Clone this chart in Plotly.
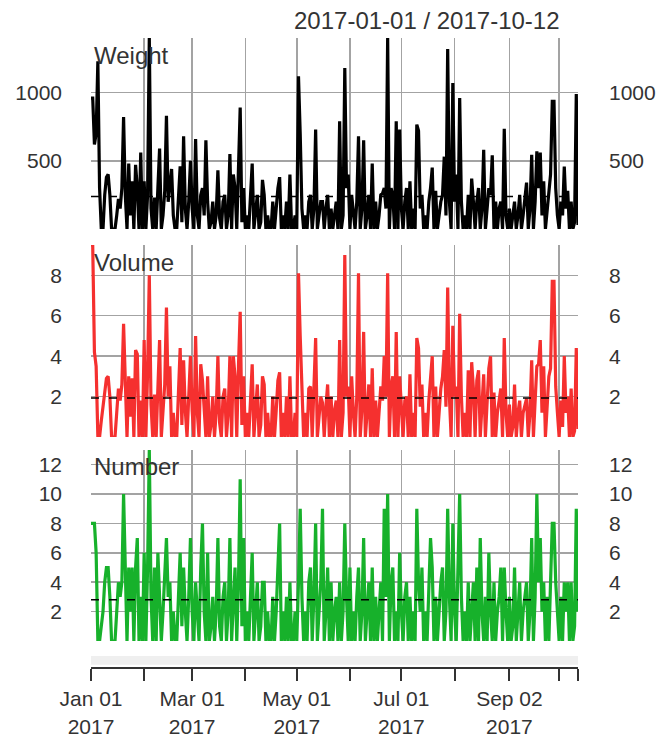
import pandas as pd
import plotly.graph_objects as go

dates = pd.date_range("2017-01-01", "2017-10-12", freq="D")

weight = [
    960, 960, 620, 700, 1230, 300, 0, 0, 250, 380,
    400, 250, 0, 0, 0, 100, 220, 150, 300, 820,
    250, 0, 480, 100, 350, 0, 470, 300, 0, 560,
    0, 350, 0, 250, 1400, 150, 0, 230, 0, 300,
    590, 0, 100, 280, 830, 200, 300, 440, 100, 0,
    0, 200, 460, 50, 680, 150, 0, 200, 500, 150,
    0, 660, 100, 0, 250, 300, 100, 650, 200, 0,
    50, 200, 0, 100, 430, 80, 0, 200, 250, 0,
    100, 550, 0, 400, 300, 0, 560, 890, 50, 300,
    0, 100, 0, 200, 480, 0, 120, 250, 0, 50,
    360, 250, 0, 100, 0, 0, 200, 0, 150, 300,
    380, 0, 100, 0, 200, 0, 400, 0, 0, 100,
    0, 1120, 700, 150, 0, 100, 0, 200, 250, 0,
    150, 730, 0, 100, 200, 200, 0, 150, 250, 0,
    150, 0, 100, 200, 0, 790, 0, 100, 1180, 300,
    400, 0, 250, 100, 0, 200, 680, 0, 150, 650,
    0, 100, 250, 0, 480, 0, 200, 0, 100, 250,
    260, 300, 150, 1400, 0, 300, 250, 0, 790, 0,
    730, 150, 0, 200, 300, 0, 350, 0, 150, 0,
    765, 720, 150, 250, 0, 100, 0, 200, 300, 450,
    0, 280, 0, 100, 200, 250, 530, 100, 1320, 200,
    0, 1070, 200, 400, 0, 960, 200, 0, 100, 0,
    250, 0, 370, 200, 0, 200, 300, 0, 150, 580,
    0, 150, 300, 250, 540, 0, 200, 0, 150, 200,
    0, 735, 100, 0, 150, 0, 100, 200, 0, 100,
    250, 0, 100, 200, 340, 0, 150, 544, 0, 200,
    570, 300, 560, 100, 350, 0, 150, 300, 400, 936,
    936, 300, 100, 0, 200, 100, 458, 150, 280, 0,
    200, 0, 50, 990, 30,
]

volume = [
    9.5, 9.5, 4.2, 3.5, 0, 0, 0.8, 1.5, 2.5, 2.9,
    3.0, 2.0, 0, 0, 0, 1.2, 2.4, 1.8, 2.6, 5.6,
    2.2, 0, 3.0, 1.0, 2.9, 0, 4.3, 4.1, 0, 1.8,
    0, 4.8, 0, 3.2, 8.0, 1.6, 0, 2.1, 0, 2.3,
    4.8, 0, 1.2, 2.6, 6.4, 2.0, 3.5, 0, 1.2, 0,
    0, 2.0, 4.4, 0.6, 3.8, 1.3, 0, 2.0, 4.0, 1.3,
    0, 5.0, 1.2, 0, 3.6, 2.8, 1.0, 0, 3.0, 0,
    0.6, 2.0, 0, 1.2, 4.0, 0.7, 0, 2.0, 2.4, 0,
    1.2, 4.0, 0, 4.0, 3.0, 0, 3.5, 6.2, 0.6, 3.0,
    0, 1.2, 0, 2.0, 3.6, 0, 1.2, 2.6, 0, 0.6,
    3.0, 2.6, 0, 1.2, 0, 0, 2.0, 0, 1.3, 2.8,
    3.2, 0, 1.2, 0, 2.0, 0, 3.0, 0, 0, 1.2,
    0, 8.1, 5.0, 1.8, 0, 1.2, 0, 2.4, 2.5, 0,
    2.0, 4.9, 0, 1.2, 2.0, 1.7, 0, 1.5, 2.6, 0,
    2.0, 0, 1.3, 1.8, 0, 4.8, 0, 1.2, 9.0, 2.0,
    2.5, 0, 3.0, 1.2, 0, 2.0, 8.1, 0, 1.4, 5.2,
    0, 1.2, 2.6, 0, 3.4, 0, 1.8, 0, 1.2, 2.5,
    1.8, 4.0, 2.0, 8.1, 0, 2.5, 3.0, 0, 5.2, 0,
    3.0, 1.3, 0, 1.8, 2.0, 0, 3.1, 0, 1.2, 0,
    4.9, 4.4, 1.5, 2.6, 0, 1.2, 0, 1.8, 3.0, 4.0,
    0, 2.5, 0, 1.2, 2.4, 3.0, 4.3, 1.5, 7.4, 2.0,
    0, 5.5, 2.0, 2.5, 0, 6.1, 2.0, 0, 1.2, 0,
    3.3, 0, 3.7, 2.4, 0, 2.8, 3.3, 0, 1.4, 3.1,
    0, 1.8, 3.4, 4.0, 0, 2.2, 0, 1.2, 1.8, 2.4,
    0, 4.9, 1.2, 0, 1.6, 0, 0.5, 2.6, 0, 1.2,
    1.8, 0, 1.2, 1.6, 1.9, 0, 1.2, 3.8, 0, 1.8,
    3.5, 3.6, 4.8, 1.2, 3.5, 0, 1.8, 3.0, 3.4, 7.7,
    7.7, 2.5, 1.2, 0, 1.8, 0.5, 4.0, 1.2, 2.0, 0,
    2.4, 0, 0.3, 4.4, 0.4,
]

number = [
    8, 8, 8, 6, 0, 0, 1, 2, 4, 5,
    5, 3, 0, 0, 0, 2, 4, 3, 4, 10,
    4, 0, 5, 2, 5, 0, 5, 7, 0, 3,
    0, 6, 0, 5, 13, 3, 0, 5, 0, 6,
    3, 0, 2, 5, 7, 3, 4, 0, 2, 0,
    0, 3, 6, 1, 5, 2, 0, 3, 7, 2,
    0, 4, 2, 0, 5, 8, 2, 0, 6, 0,
    1, 3, 0, 2, 7, 1, 0, 3, 4, 0,
    2, 7, 0, 3, 5, 0, 4, 11, 1, 7,
    0, 2, 0, 3, 6, 0, 2, 4, 0, 1,
    4, 4, 0, 2, 0, 0, 3, 0, 2, 5,
    8, 0, 2, 0, 3, 0, 4, 0, 0, 2,
    0, 4, 9, 3, 0, 2, 0, 4, 5, 0,
    3, 8, 0, 2, 4, 9, 0, 2, 5, 0,
    4, 0, 2, 3, 0, 4, 0, 2, 8, 3,
    0, 5, 0, 2, 0, 3, 5, 0, 2, 7,
    0, 2, 4, 0, 5, 0, 3, 0, 2, 4,
    0, 9, 3, 10, 0, 4, 5, 0, 2, 0,
    6, 2, 0, 3, 4, 0, 3, 0, 2, 0,
    9, 4, 2, 5, 0, 2, 0, 3, 7, 5,
    0, 3, 0, 2, 4, 5, 0, 2, 9, 3,
    0, 8, 2, 0, 5, 10, 3, 0, 2, 0,
    4, 0, 2, 4, 0, 5, 0, 7, 2, 0,
    3, 0, 6, 2, 0, 4, 0, 2, 3, 5,
    0, 5, 2, 0, 3, 0, 1, 5, 0, 2,
    4, 0, 2, 3, 4, 0, 2, 7, 0, 3,
    10, 4, 7, 2, 4, 0, 3, 0, 5, 8,
    8, 4, 2, 0, 3, 0, 4, 2, 4, 0,
    4, 0, 1, 9, 2,
]

panel_names = ["Weight", "Volume", "Number"]
panel_colors = ["#000000", "#F5302F", "#17B12B"]
y_ticks = [[500, 1000], [2, 4, 6, 8], [2, 4, 6, 8, 10, 12]]
grid_dates = ["2017-01-01", "2017-02-01", "2017-03-01", "2017-04-01", "2017-05-01",
              "2017-06-01", "2017-07-01", "2017-08-01", "2017-09-02", "2017-10-01",
              "2017-10-12"]
x_labels = ["Jan 01<br>2017", "", "Mar 01<br>2017", "", "May 01<br>2017", "",
            "Jul 01<br>2017", "", "Sep 02<br>2017", "", ""]
title_text = "2017-01-01 / 2017-10-12"

series = [weight, volume, number]

W, H = 658, 738


def fx(px):
    return px / W


def fy(py):
    return 1 - py / H


x_dom = [fx(91), fx(578)]
y_doms = [[fy(229), fy(38)], [fy(437), fy(245)], [fy(641), fy(450)]]
strip_dom = [fy(667), fy(656)]

FONT = "Liberation Sans, Arial, Helvetica, sans-serif"
TXT = "#333333"
GRID = "#A3A3A3"
x_range = [dates[0], dates[-1]]

fig = go.Figure()
layout = dict(
    width=W, height=H, autosize=False,
    margin=dict(l=0, r=0, t=0, b=0),
    paper_bgcolor="white", plot_bgcolor="white",
    showlegend=False,
    font=dict(family=FONT, color=TXT, size=21),
)

for i, (vals, name, col, ticks) in enumerate(zip(series, panel_names, panel_colors, y_ticks)):
    xa = "x" if i == 0 else f"x{i+1}"
    ya = "y" if i == 0 else f"y{i+1}"
    yr_name = f"y{i+4}"
    mean_v = sum(vals) / len(vals)
    yrange = [min(vals), max(vals)]
    fig.add_trace(go.Scatter(x=dates, y=vals, mode="lines", xaxis=xa, yaxis=ya,
                             line=dict(color=col, width=3.2), hoverinfo="skip"))
    fig.add_trace(go.Scatter(x=[dates[0], dates[-1]], y=[mean_v, mean_v], mode="lines",
                             xaxis=xa, yaxis=ya,
                             line=dict(color="black", width=1.5, dash="8px,10px"),
                             hoverinfo="skip"))
    fig.add_trace(go.Scatter(x=dates, y=vals, mode="lines", xaxis=xa, yaxis=yr_name,
                             line=dict(color="rgba(0,0,0,0)", width=0), hoverinfo="skip"))
    xkey = "xaxis" if i == 0 else f"xaxis{i+1}"
    ykey = "yaxis" if i == 0 else f"yaxis{i+1}"
    layout[xkey] = dict(domain=x_dom, anchor=ya, range=x_range, type="date",
                        tickvals=grid_dates, showticklabels=False, ticks="",
                        showgrid=True, gridcolor=GRID, gridwidth=1.5,
                        zeroline=False, showline=False,
                        **({} if i == 0 else {"matches": "x"}))
    layout[ykey] = dict(domain=y_doms[i], anchor=xa, range=yrange,
                        tickvals=ticks, showgrid=True, gridcolor=GRID, gridwidth=1.5,
                        zeroline=False, showline=False, ticks="",
                        ticklabelstandoff=28, automargin=False,
                        tickfont=dict(size=21, color=TXT))
    layout[f"yaxis{i+4}"] = dict(domain=y_doms[i], anchor=xa, overlaying=ya, side="right",
                                 range=yrange, tickvals=ticks, showgrid=False,
                                 zeroline=False, showline=False, ticks="",
                                 ticklabelstandoff=30, automargin=False,
                                 tickfont=dict(size=21, color=TXT))

# bottom time axis with observation strip
fig.add_trace(go.Scatter(x=dates, y=[0] * len(dates), mode="lines", xaxis="x4", yaxis="y7",
                         line=dict(color="rgba(0,0,0,0)", width=0), hoverinfo="skip"))
layout["xaxis4"] = dict(domain=x_dom, anchor="y7", range=x_range, type="date",
                        tickvals=grid_dates, ticktext=x_labels, ticks="outside",
                        ticklen=12, tickwidth=2, tickcolor=TXT,
                        showline=True, linecolor=TXT, linewidth=2,
                        showgrid=False, zeroline=False, automargin=False,
                        tickfont=dict(size=21, color=TXT))
layout["yaxis7"] = dict(domain=strip_dom, anchor="x4", range=[0, 1], showgrid=False,
                        zeroline=False, showticklabels=False, showline=False, ticks="")

shapes = [dict(type="rect", xref="x4 domain", yref="y7 domain", x0=0, x1=1, y0=0.2, y1=1,
               fillcolor="#EFEFEF", line=dict(width=0), layer="below")]

annotations = [dict(text=title_text, xref="paper", yref="paper", x=fx(562), y=fy(20),
                    xanchor="right", yanchor="middle", showarrow=False,
                    font=dict(size=24, color=TXT, family=FONT))]
label_y = [55, 262, 467]
for name, ly in zip(panel_names, label_y):
    annotations.append(dict(text=name, xref="paper", yref="paper", x=fx(92), y=fy(ly),
                            xanchor="left", yanchor="middle", showarrow=False,
                            font=dict(size=24, color=TXT, family=FONT)))

layout["shapes"] = shapes
layout["annotations"] = annotations
fig.update_layout(**layout)
fig.write_html(
    "out.html",
    config={"displayModeBar": False, "staticPlot": True},
    post_script="document.body.style.margin='0px';document.body.style.overflow='hidden';",
)
